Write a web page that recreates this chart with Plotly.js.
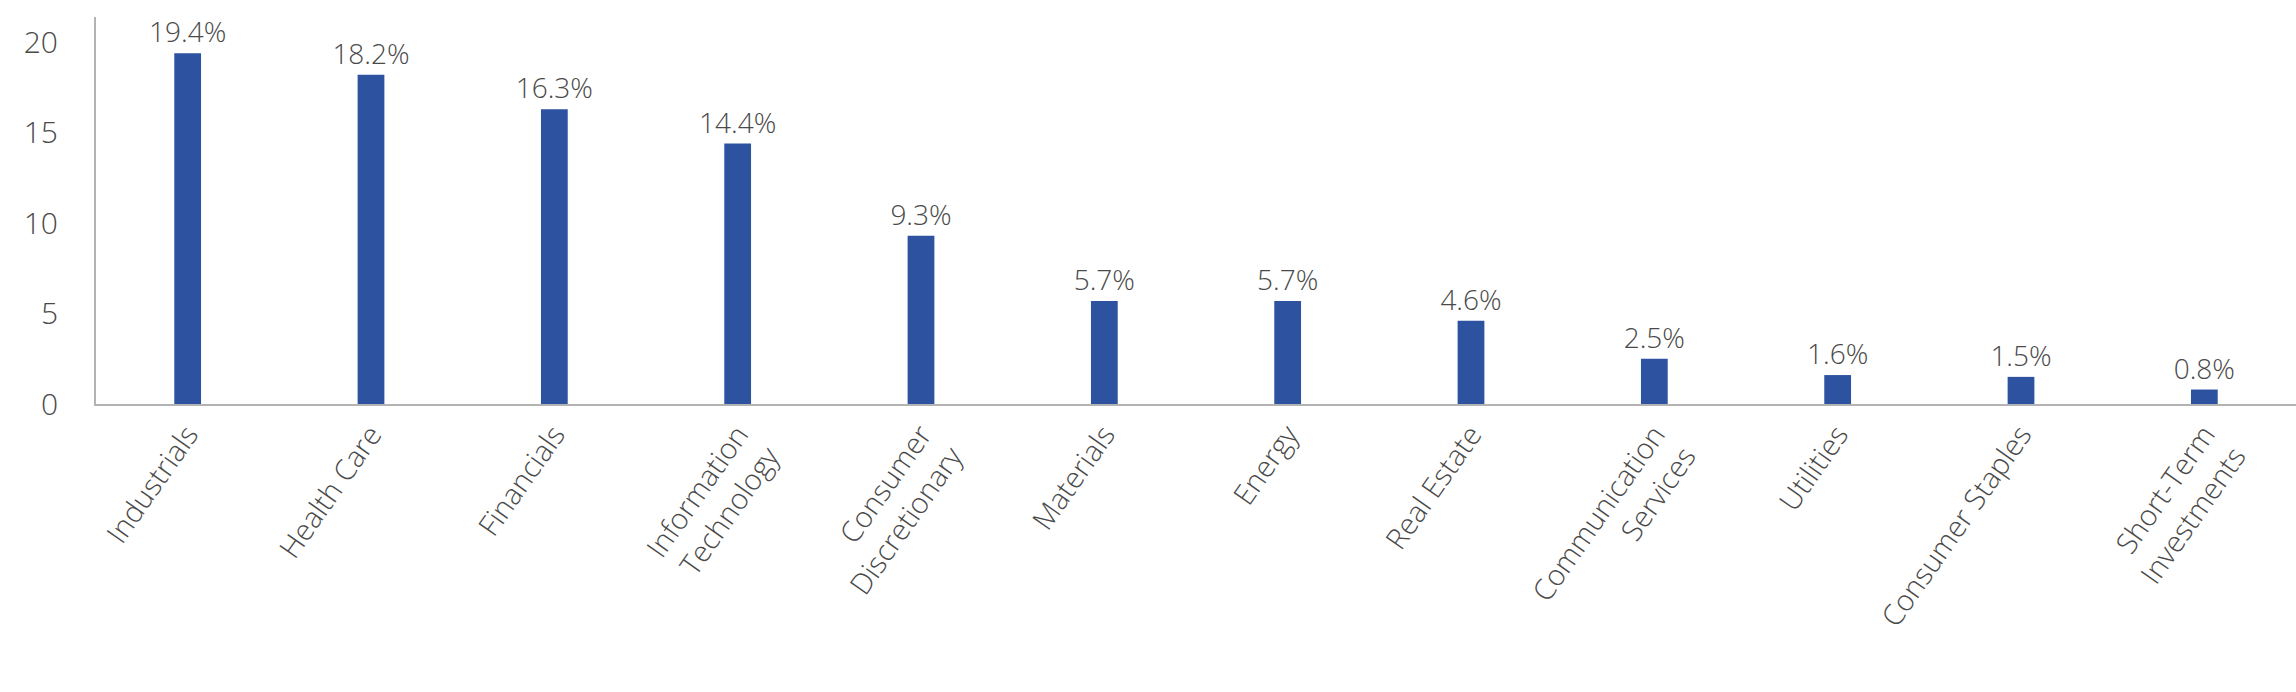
<!DOCTYPE html>
<html>
<head>
<meta charset="utf-8">
<script src="https://cdn.plot.ly/plotly-3.0.1.min.js"></script>
<style>
  html, body { margin: 0; padding: 0; background: #ffffff; }
  #chart { width: 2296px; height: 692px; }
</style>
</head>
<body>
<div id="chart"></div>
<script>
const categories = [
  "Industrials", "Health Care", "Financials", "Information<br>Technology",
  "Consumer<br>Discretionary", "Materials", "Energy", "Real Estate",
  "Communication<br>Services", "Utilities", "Consumer Staples", "Short-Term<br>Investments"
];
const values = [19.4, 18.2, 16.3, 14.4, 9.3, 5.7, 5.7, 4.6, 2.5, 1.6, 1.5, 0.8];
const valueLabels = values.map(v => v.toFixed(1) + "%");
const yTickValues = [0, 5, 10, 15, 20];

const textColor = "#4a4a4a";
const fontFamily = "'Open Sans', 'DejaVu Sans', sans-serif";

const trace = {
  type: "bar",
  x: categories,
  y: values,
  text: valueLabels,
  textposition: "outside",
  constraintext: "none",
  cliponaxis: false,
  textfont: { family: fontFamily, size: 28, color: textColor, weight: 300 },
  marker: { color: "#2c52a0" },
  width: 0.146,
  hoverinfo: "skip"
};

const layout = {
  width: 2296,
  height: 692,
  margin: { l: 96, r: 0, t: 17, b: 288 },
  paper_bgcolor: "#ffffff",
  plot_bgcolor: "#ffffff",
  font: { family: fontFamily, size: 30, color: textColor, weight: 300 },
  showlegend: false,
  xaxis: {
    type: "category",
    range: [-0.5, 11.5],
    showline: true,
    linecolor: "#b3b3b3",
    linewidth: 2,
    showgrid: false,
    zeroline: false,
    ticks: "",
    tickangle: -55,
    tickfont: { family: fontFamily, size: 29, color: textColor, weight: 300 }
  },
  yaxis: {
    range: [0, 21.4],
    tickvals: yTickValues,
    ticktext: yTickValues.map(String),
    showline: true,
    linecolor: "#b3b3b3",
    linewidth: 2,
    showgrid: false,
    zeroline: false,
    ticks: "",
    ticklabelstandoff: 30,
    tickfont: { family: fontFamily, size: 30, color: textColor, weight: 300 }
  }
};

Plotly.newPlot("chart", [trace], layout, { displayModeBar: false, staticPlot: true });
</script>
</body>
</html>
